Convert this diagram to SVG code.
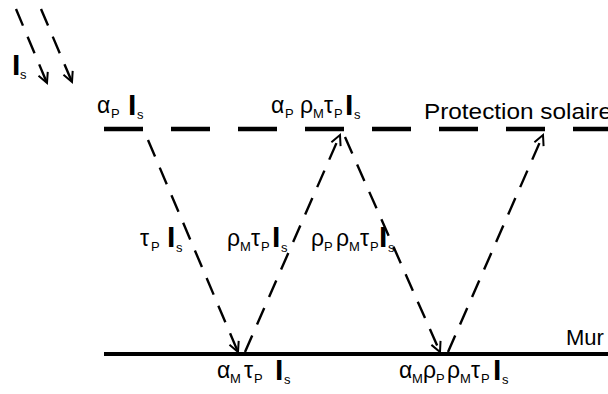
<svg xmlns="http://www.w3.org/2000/svg" width="608" height="394" viewBox="0 0 608 394">
<style>
text{font-family:"Liberation Sans",Arial,sans-serif;fill:#000}
.g{font-size:23px}
.sb{font-size:13px}
.I{font-size:30px;font-weight:bold}
.big{font-size:22px}
.ray{fill:none;stroke:#000;stroke-width:2.4;stroke-dasharray:18 12}
</style>
<defs>
<marker id="ah" viewBox="-12 -7 14 14" refX="0" refY="0" markerWidth="14" markerHeight="14" markerUnits="userSpaceOnUse" orient="auto">
<path d="M-10,-5 L0,0 L-10,5" fill="none" stroke="#000" stroke-width="2"/>
</marker>
</defs>
<rect width="608" height="394" fill="#fff"/>
<g id="protection">
<line x1="104" y1="129" x2="612" y2="129" stroke="#000" stroke-width="4.5" stroke-dasharray="39 28"/>
<text class="big" x="424" y="119" textLength="188" lengthAdjust="spacingAndGlyphs">Protection solaire</text>
</g>
<g id="mur">
<line x1="104" y1="354" x2="608" y2="354" stroke="#000" stroke-width="4"/>
<text class="big" x="566" y="345">Mur</text>
</g>
<g id="connectors">
<line class="ray" x1="16" y1="9" x2="47" y2="83" marker-end="url(#ah)"/>
<line class="ray" x1="41" y1="9" x2="72" y2="82" marker-end="url(#ah)"/>
<line class="ray" x1="148" y1="140" x2="238" y2="352" marker-end="url(#ah)"/>
<line class="ray" x1="245" y1="352" x2="340" y2="135" marker-end="url(#ah)"/>
<line class="ray" x1="345" y1="137" x2="440" y2="352" marker-end="url(#ah)"/>
<line class="ray" x1="448" y1="352" x2="543" y2="135" marker-end="url(#ah)"/>
</g>
<g id="label-incident">
<text class="I" x="12" y="75">I</text><text class="sb" x="20" y="79">s</text>
</g>
<g id="label-alphaP">
<text class="g" x="97" y="113">α</text><text class="sb" x="111" y="118">P</text>
<text class="I" x="128" y="115">I</text><text class="sb" x="137" y="119">s</text>
</g>
<g id="label-alphaP-rhoM">
<text class="g" x="271" y="113">α</text><text class="sb" x="285" y="118">P</text>
<text class="g" x="300" y="113">ρ</text><text class="sb" x="313" y="118">M</text>
<text class="g" x="324" y="113">τ</text><text class="sb" x="334" y="118">P</text>
<text class="I" x="345" y="115">I</text><text class="sb" x="354" y="119">s</text>
</g>
<g id="label-tauP">
<text class="g" x="140" y="246">τ</text><text class="sb" x="151" y="251">P</text>
<text class="I" x="167" y="247">I</text><text class="sb" x="176" y="252">s</text>
</g>
<g id="label-rhoM-tauP">
<text class="g" x="227" y="246">ρ</text><text class="sb" x="240" y="251">M</text>
<text class="g" x="251" y="246">τ</text><text class="sb" x="261" y="251">P</text>
<text class="I" x="272" y="247">I</text><text class="sb" x="281" y="252">s</text>
</g>
<g id="label-rhoP-rhoM-tauP">
<text class="g" x="311" y="246">ρ</text><text class="sb" x="324" y="251">P</text>
<text class="g" x="336" y="246">ρ</text><text class="sb" x="349" y="251">M</text>
<text class="g" x="360" y="246">τ</text><text class="sb" x="370" y="251">P</text>
<text class="I" x="379" y="247">I</text><text class="sb" x="388" y="252">s</text>
</g>
<g id="label-alphaM-tauP">
<text class="g" x="217" y="378">α</text><text class="sb" x="230" y="383">M</text>
<text class="g" x="244" y="378">τ</text><text class="sb" x="254" y="383">P</text>
<text class="I" x="275" y="380">I</text><text class="sb" x="284" y="384">s</text>
</g>
<g id="label-alphaM-rhoP-rhoM-tauP">
<text class="g" x="399" y="378">α</text><text class="sb" x="412" y="383">M</text>
<text class="g" x="423" y="378">ρ</text><text class="sb" x="436" y="383">P</text>
<text class="g" x="447" y="378">ρ</text><text class="sb" x="460" y="383">M</text>
<text class="g" x="471" y="378">τ</text><text class="sb" x="481" y="383">P</text>
<text class="I" x="493" y="380">I</text><text class="sb" x="502" y="384">s</text>
</g>
</svg>
